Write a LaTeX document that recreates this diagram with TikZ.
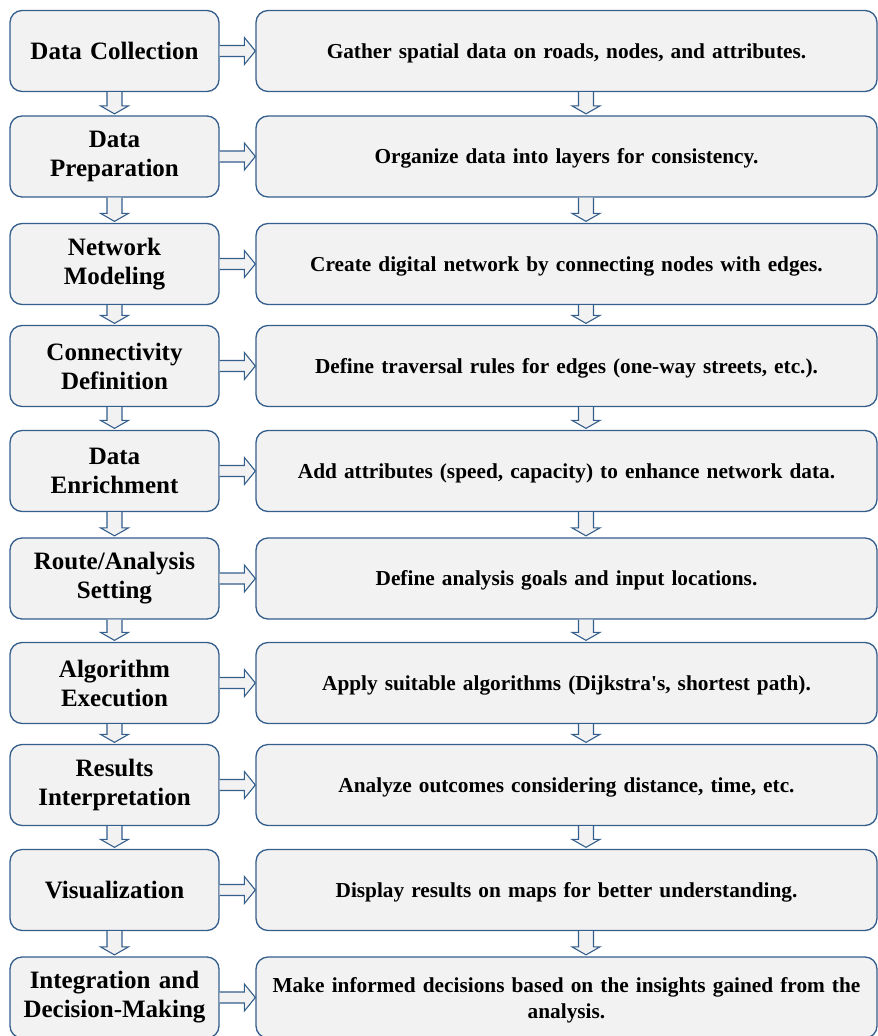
\documentclass[tikz,border=0pt]{standalone}
\usepackage{fontspec}
\setmainfont{Liberation Serif}[Ligatures=TeXOff]
\usetikzlibrary{calc}
\definecolor{bordc}{RGB}{52,94,140}
\definecolor{boxfill}{RGB}{242,242,242}
\tikzset{
  box/.style={draw=bordc, fill=boxfill, line width=1.3pt, rounded corners=12pt,
    minimum height=81pt, inner sep=2pt, align=center, font=\bfseries},
  lbox/.style={box, minimum width=209pt, text width=200pt, font=\fontsize{25}{29}\selectfont\bfseries},
  rbox/.style={box, minimum width=621pt, text width=610pt, text height=15pt, text depth=1pt,
    font=\fontsize{21.3}{26}\selectfont\bfseries},
  blockarrow/.style={draw=bordc, fill=boxfill, line width=1.1pt, line join=miter}
}
% vertical block arrow: #1 start (top), #2 tip
\newcommand{\vblock}[2]{%
  \draw[blockarrow] let \p1=(#1), \p2=(#2) in
   (\x1-7.5pt,\y1) -- (\x1-7.5pt,\y2+8pt) -- (\x1-14pt,\y2+8pt) -- (\x1,\y2)
   -- (\x1+14pt,\y2+8pt) -- (\x1+7.5pt,\y2+8pt) -- (\x1+7.5pt,\y1);}
% horizontal block arrow: #1 start (left), #2 tip
\newcommand{\hblock}[2]{%
  \draw[blockarrow] let \p1=(#1), \p2=(#2) in
   (\x1,\y1+5.5pt) -- (\x2-11pt,\y1+5.5pt) -- (\x2-11pt,\y1+13.5pt) -- (\x2,\y1)
   -- (\x2-11pt,\y1-13.5pt) -- (\x2-11pt,\y1-5.5pt) -- (\x1,\y1-5.5pt);}
\begin{document}
\begin{tikzpicture}[x=1pt,y=-1pt]
\useasboundingbox (0,0) rectangle (878,1036);
\coordinate (rx) at (586,0);
% left column
\node[lbox] (L1) at (114.5,51) {Data Collection};
\node[lbox] (L2) at (114.5,156.5) {Data\\Preparation};
\node[lbox] (L3) at (114.5,264) {Network\\Modeling};
\node[lbox] (L4) at (114.5,366) {Connectivity\\Definition};
\node[lbox] (L5) at (114.5,471) {Data\\Enrichment};
\node[lbox] (L6) at (114.5,578.5) {Route/Analysis\\Setting};
\node[lbox] (L7) at (114.5,683) {Algorithm\\Execution};
\node[lbox] (L8) at (114.5,785) {Results\\Interpretation};
\node[lbox] (L9) at (114.5,890) {Visualization};
\node[lbox] (L10) at (114.5,997.5) {Integration and\\Decision-Making};
% right column
\node[rbox] (R1) at (566.5,51) {Gather spatial data on roads, nodes, and attributes.};
\node[rbox] (R2) at (566.5,156.5) {Organize data into layers for consistency.};
\node[rbox] (R3) at (566.5,264) {Create digital network by connecting nodes with edges.};
\node[rbox] (R4) at (566.5,366) {Define traversal rules for edges (one-way streets, etc.).};
\node[rbox] (R5) at (566.5,471) {Add attributes (speed, capacity) to enhance network data.};
\node[rbox] (R6) at (566.5,578.5) {Define analysis goals and input locations.};
\node[rbox] (R7) at (566.5,683) {Apply suitable algorithms (Dijkstra's, shortest path).};
\node[rbox] (R8) at (566.5,785) {Analyze outcomes considering distance, time, etc.};
\node[rbox] (R9) at (566.5,890) {Display results on maps for better understanding.};
\node[rbox, text height=15pt, text depth=26pt] (R10) at (566.5,997.5) {Make informed decisions based on the insights gained from the\\analysis.};
% arrows
\foreach \i in {1,...,10}{
  \hblock{L\i.east}{R\i.west}
}
\foreach \i [evaluate=\i as \j using int(\i+1)] in {1,...,9}{
  \coordinate (lt\i) at ($(L\j.north)+(0,-1.5)$);
  \vblock{L\i.south}{lt\i}
  \coordinate (rs\i) at (R\i.south -| rx);
  \coordinate (rt\i) at ($(R\j.north -| rx)+(0,-1.5)$);
  \vblock{rs\i}{rt\i}
}
\end{tikzpicture}
\end{document}
